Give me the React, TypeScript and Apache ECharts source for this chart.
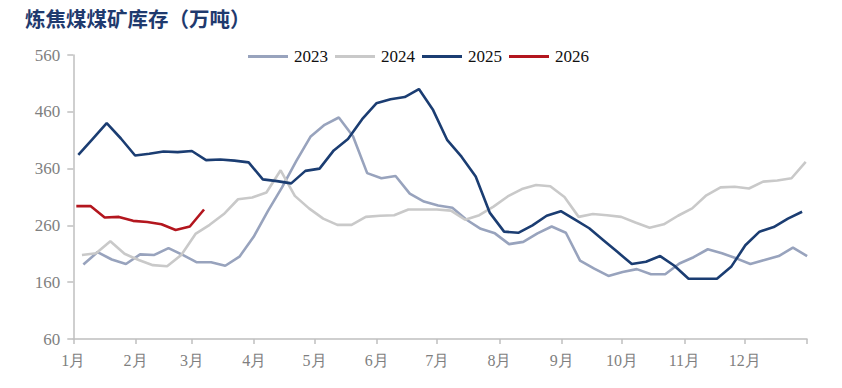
import React, { useEffect, useRef } from "react";
import * as echarts from "echarts";

const TITLE = "炼焦煤煤矿库存（万吨）";
const MONTH_LABELS = ["1月", "2月", "3月", "4月", "5月", "6月", "7月", "8月", "9月", "10月", "11月", "12月"];
const MONTH_STARTS = [0, 31, 59, 90, 120, 151, 181, 212, 243, 273, 304, 334];
const YEAR_END = 365;
const Y_TICKS = [60, 160, 260, 360, 460, 560];

// weekly observations: day-of-year of first week, spacing in days
const WEEK_STEP = 7.06;
const START_2023 = 5;
const START_2024 = 4.3;
const START_2025 = 2.5;
const START_2026 = 1.5;

const V2023 = [191, 213, 200, 192, 209, 208, 220, 208, 195, 195, 189, 205, 240, 285, 327, 373, 416, 437, 450, 417, 352, 343, 347, 316, 302, 295, 291, 270, 254, 246, 227, 231, 246, 258, 247, 198, 184, 171, 178, 183, 174, 174, 193, 204, 218, 211, 202, 192, 199, 206, 221, 206];
const V2024 = [208, 211, 232, 210, 199, 190, 188, 208, 245, 261, 280, 306, 309, 318, 357, 312, 290, 272, 261, 261, 275, 277, 278, 288, 288, 288, 286, 270, 278, 293, 311, 324, 331, 329, 310, 275, 280, 278, 275, 265, 256, 262, 277, 290, 313, 327, 328, 325, 337, 339, 343, 372];
const V2025 = [384, 412, 440, 413, 383, 386, 390, 389, 391, 375, 376, 374, 371, 341, 338, 334, 356, 360, 392, 412, 447, 475, 482, 486, 500, 463, 410, 381, 346, 282, 249, 247, 260, 277, 285, 270, 255, 234, 213, 192, 196, 206, 189, 166, 166, 166, 187, 225, 249, 257, 272, 284];
const V2026 = [294, 294, 274, 275, 268, 266, 262, 252, 258, 288];

const SERIES = [
  { name: "2023", start: START_2023, values: V2023, color: "#98a3bd" },
  { name: "2024", start: START_2024, values: V2024, color: "#c9c9c9" },
  { name: "2025", start: START_2025, values: V2025, color: "#1b3d72" },
  { name: "2026", start: START_2026, values: V2026, color: "#b3161e" },
];

export default function App() {
  const ref = useRef<HTMLDivElement>(null);
  useEffect(() => {
    if (!ref.current) return;
    const chart = echarts.init(ref.current, undefined, { renderer: "svg" });
    const serif = "'Liberation Serif', 'Times New Roman', serif";
    chart.setOption({
      animation: false,
      backgroundColor: "#ffffff",
      title: {
        text: TITLE,
        left: 20,
        top: 3,
        textStyle: {
          fontFamily: "'Noto Sans CJK SC', sans-serif",
          fontSize: 20.5,
          fontWeight: "bold",
          color: "#1f3a6e",
        },
      },
      legend: {
        left: 243,
        top: 43,
        icon: "rect",
        itemWidth: 40,
        itemHeight: 3,
        itemGap: 7,
        textStyle: {
          fontFamily: serif,
          fontSize: 17,
          color: "#111",
          padding: [0, 0, 0, 1],
        },
        data: SERIES.map((s) => s.name),
      },
      grid: { left: 73.3, right: 35, top: 55, bottom: 49, containLabel: false },
      xAxis: {
        type: "value",
        min: 0,
        max: YEAR_END,
        axisLine: { show: true, lineStyle: { color: "#bfbfbf", width: 1.5 } },
        axisTick: {
          show: true,
          length: 5,
          customValues: [...MONTH_STARTS, YEAR_END],
          lineStyle: { color: "#bfbfbf", width: 1.5 },
        },
        axisLabel: {
          customValues: MONTH_STARTS,
          formatter: (v: number) => {
            const i = MONTH_STARTS.indexOf(Math.round(v));
            return i >= 0 ? MONTH_LABELS[i] : "";
          },
          fontFamily: serif,
          fontSize: 16,
          color: "#7f7f7f",
          margin: 13,
        },
        splitLine: { show: false },
      },
      yAxis: {
        type: "value",
        min: 60,
        max: 560,
        axisLine: { show: true, lineStyle: { color: "#bfbfbf", width: 1.5 } },
        axisTick: {
          show: true,
          length: 6,
          customValues: Y_TICKS,
          lineStyle: { color: "#bfbfbf", width: 1.5 },
        },
        axisLabel: {
          customValues: Y_TICKS,
          fontFamily: serif,
          fontSize: 17,
          color: "#7f7f7f",
          margin: 13,
        },
        splitLine: { show: false },
      },
      series: SERIES.map((s) => ({
        name: s.name,
        type: "line",
        symbol: "none",
        smooth: false,
        color: s.color,
        lineStyle: { color: s.color, width: 2.6 },
        data: s.values.map((v, i) => [s.start + i * WEEK_STEP, v]),
      })),
    });
    return () => chart.dispose();
  }, []);
  return (
    <div
      ref={ref}
      style={{ position: "fixed", left: 0, top: 0, width: 842, height: 388 }}
    />
  );
}
